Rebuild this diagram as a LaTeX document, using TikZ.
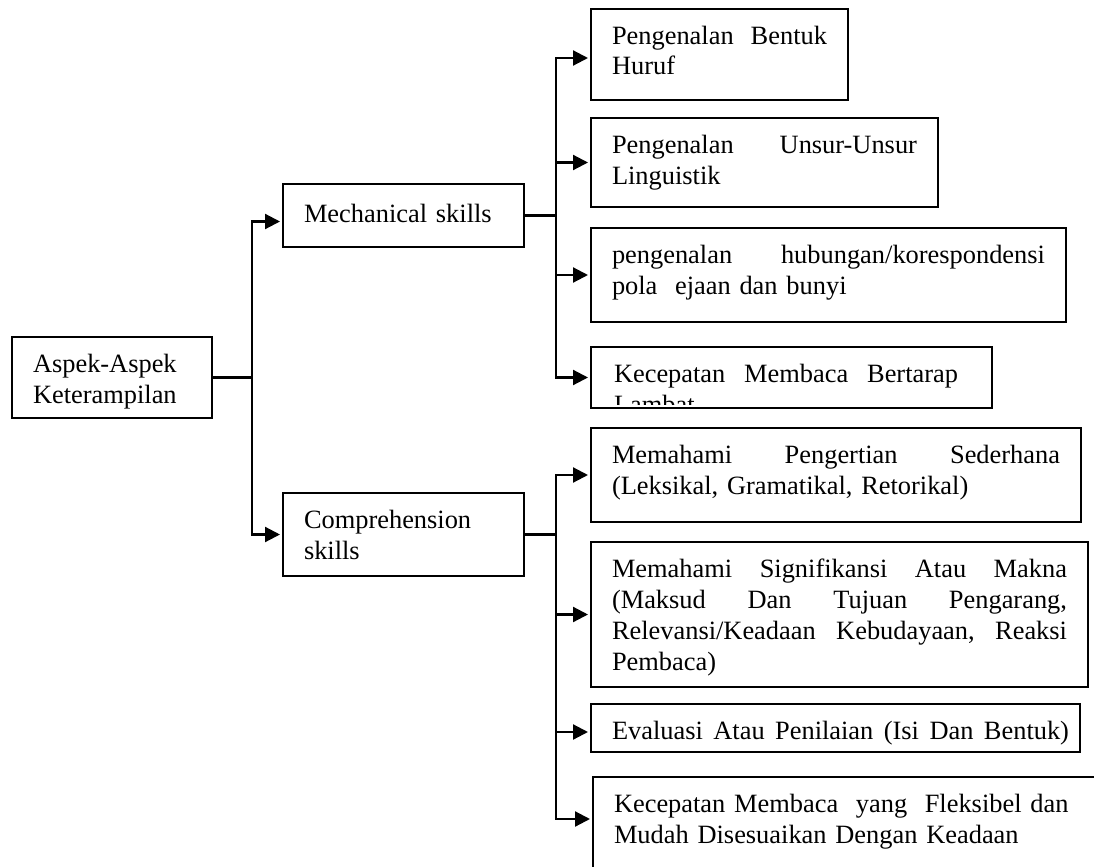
\documentclass[tikz,border=0pt]{standalone}
\usepackage{fontspec}
\setmainfont{Liberation Serif}
\usetikzlibrary{arrows.meta}

% a full-width line; \hfill between the words spreads them as in justified text
\newcommand\jl[2][\hsize]{\leavevmode\hbox to #1{#2}}

\begin{document}
\begin{tikzpicture}[x=0.5pt, y=-0.5pt,
  lbl/.style={font=\fontsize{13.2pt}{15.5pt}\selectfont, align=left,
    inner xsep=10.5pt, inner ysep=0pt, outer sep=0pt,
    text height=17.5pt, anchor=north west},
  box/.style={lbl, draw, line width=1.3pt},
  link/.style={line width=1.1pt},
  arr/.style={link, -{Triangle[length=7.5pt,width=7.5pt]}, shorten >=1.5pt}]

\useasboundingbox (0,0) rectangle (1094,867);

% root and the two skill groups
\node[box, text width=79pt, text depth=23pt] (root) at (12,337)
  {Aspek-Aspek\\Keterampilan};
\node[box, text width=99.5pt, text height=19pt, text depth=12.5pt] (mech) at (283,184)
  {Mechanical skills};
\node[box, text width=99.5pt, text depth=24pt] (comp) at (283,493)
  {Comprehension\\skills};

% mechanical skills
\node[box, text width=107.5pt, text depth=28pt] (b1) at (591,9)
  {\jl{Pengenalan\hfill Bentuk}\\Huruf};
\node[box, text width=152.5pt, text depth=27pt] (b2) at (591,118)
  {\jl{Pengenalan\hfill Unsur-Unsur}\\Linguistik};
\node[box, text width=216.5pt, text depth=29.5pt] (b3) at (591,228)
  {\jl{pengenalan\hfill hubungan/korespondensi}\\pola\ \ ejaan dan bunyi};
\node[box, text width=179.5pt, text depth=13pt] (b4) at (591,347) {};
% its second line runs out of the box and is cut off
\begin{scope}
  \clip (b4.north west) rectangle ([yshift=2pt]b4.south east);
  \node[lbl, text width=179.5pt] at ([xshift=1pt]b4.north west)
    {\jl[172pt]{Kecepatan\hfill Membaca\hfill Bertarap}\\Lambat};
\end{scope}

% comprehension skills
\node[box, text width=224pt, text depth=29.5pt] (b5) at (591,428)
  {\jl{Memahami\hfill Pengertian\hfill Sederhana}\\(Leksikal, Gramatikal, Retorikal)};
\node[box, text width=227.5pt, text depth=55pt] (b6) at (591,542)
  {\jl{Memahami\hfill Signifikansi\hfill Atau\hfill Makna}\\
   \jl{(Maksud\hfill Dan\hfill Tujuan\hfill Pengarang,}\\
   \jl{Relevansi/Keadaan\hfill Kebudayaan,\hfill Reaksi}\\
   Pembaca)};
\node[box, text width=223.5pt, text depth=6.5pt] (b7) at (591,704)
  {\jl[228.5pt]{Evaluasi\hfill Atau\hfill Penilaian\hfill (Isi\hfill Dan\hfill Bentuk)}};
\node[box, text width=234pt, text depth=32.5pt] (b8) at (593,777)
  {Kecepatan Membaca\ \ yang\ \ Fleksibel dan\\Mudah Disesuaikan Dengan Keadaan};

% junctions of the tree
\coordinate (j0) at ([xshift=20pt]root.east);
\coordinate (j1) at ([xshift=16pt]mech.east);
\coordinate (j2) at ([xshift=16pt]comp.east);

\draw[link] (root.east) -- (j0);
\draw[arr] (j0) |- ([yshift=-3pt]mech.west);
\draw[arr] (j0) |- (comp.west);

\draw[link] (mech.east) -- (j1);
\draw[arr] (j1) |- ([yshift=-1.75pt]b1.west);
\draw[arr] (j1) |- (b2.west);
\draw[arr] (j1) |- (b3.west);
\draw[arr] (j1) |- (b4.west);

\draw[link] (comp.east) -- (j2);
\draw[arr] (j2) |- (b5.west);
\draw[arr] (j2) |- (b6.west);
\draw[arr] (j2) |- ([yshift=-2pt]b7.west);
\draw[arr] (j2) |- ([yshift=-21pt]b8.north west);

\end{tikzpicture}
\end{document}
